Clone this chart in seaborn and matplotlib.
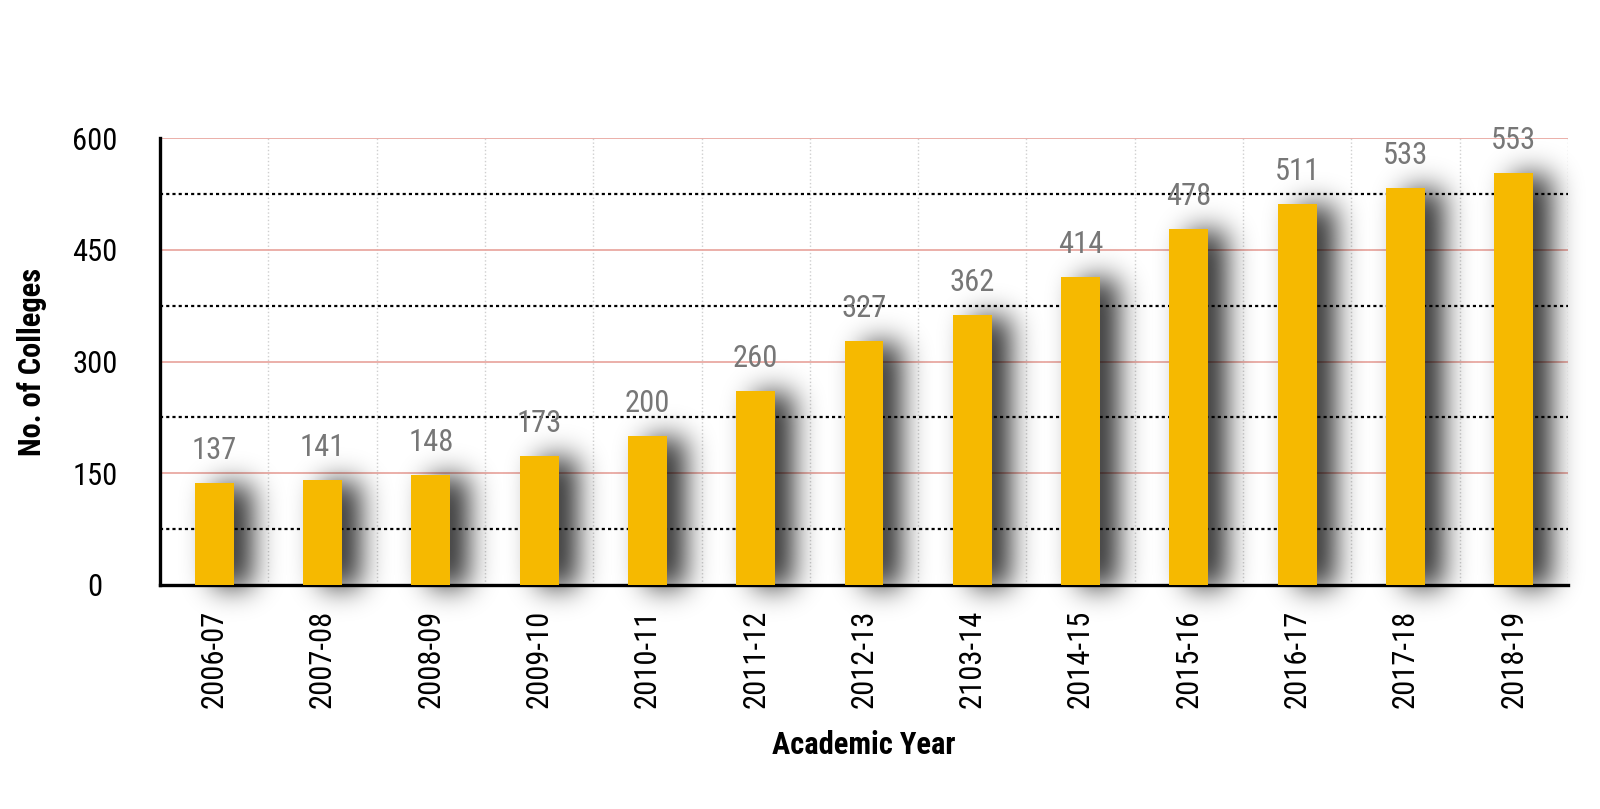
import matplotlib

matplotlib.use("Agg")

import matplotlib.pyplot as plt
import matplotlib.ticker as mticker
import numpy as np
import seaborn as sns
from matplotlib.patches import Rectangle

YEARS = [
    "2006-07", "2007-08", "2008-09", "2009-10", "2010-11", "2011-12", "2012-13",
    "2103-14", "2014-15", "2015-16", "2016-17", "2017-18", "2018-19",
]
COLLEGES = [137, 141, 148, 173, 200, 260, 327, 362, 414, 478, 511, 533, 553]
Y_TICKS = [0, 150, 300, 450, 600]

BAR_COLOR = "#F6B900"
FONT_LIST = ["Roboto Condensed", "Liberation Sans Narrow", "DejaVu Sans"]


def _blur(channel, sigma):
    radius = int(3 * sigma)
    xs = np.arange(-radius, radius + 1)
    kernel = np.exp(-(xs ** 2) / (2.0 * sigma ** 2))
    kernel /= kernel.sum()
    out = np.apply_along_axis(np.convolve, 0, channel, kernel, mode="same")
    out = np.apply_along_axis(np.convolve, 1, out, kernel, mode="same")
    return out


def drop_shadow(sigma=14, offset=(18, -2), alpha=0.85):
    # agg filter: blurred, shifted copy of the artist's alpha channel
    def _filter(im, dpi):
        pad = int(3 * sigma + max(abs(o) for o in offset)) + 2
        src = np.pad(im, [(pad, pad), (pad, pad), (0, 0)], "constant")
        out = np.zeros_like(src)
        out[:, :, 3] = np.clip(_blur(src[:, :, 3], sigma) * alpha, 0, 1)
        return out, offset[0] - pad, offset[1] - pad

    return _filter


def main():
    sns.set_theme(style="white")
    plt.rcParams["font.family"] = FONT_LIST
    plt.rcParams["font.stretch"] = "condensed"

    fig = plt.figure(figsize=(16, 8.09), dpi=100)
    ax = fig.add_axes([0.1, 0.2769, 0.88, 0.5525])

    sns.barplot(x=YEARS, y=COLLEGES, color=BAR_COLOR, saturation=1,
                width=0.36, linewidth=0, ax=ax, zorder=3)

    for bar in list(ax.patches):
        shadow = Rectangle((bar.get_x(), bar.get_y()), bar.get_width(),
                           bar.get_height(), facecolor="black",
                           edgecolor="none", zorder=2)
        shadow.set_agg_filter(drop_shadow())
        ax.add_patch(shadow)

    ax.bar_label(ax.containers[0], padding=13, color="#777777", fontsize=22)

    ax.set_xlim(-0.5, len(YEARS) - 0.5)
    ax.set_ylim(Y_TICKS[0], Y_TICKS[-1])

    # x: ticks at category borders, labels at the centres
    ax.xaxis.set_major_locator(mticker.FixedLocator(np.arange(-0.5, len(YEARS), 1.0)))
    ax.xaxis.set_major_formatter(mticker.NullFormatter())
    ax.xaxis.set_minor_locator(mticker.FixedLocator(np.arange(len(YEARS))))
    ax.xaxis.set_minor_formatter(mticker.FixedFormatter(YEARS))

    ax.yaxis.set_major_locator(mticker.FixedLocator(Y_TICKS))
    ax.yaxis.set_minor_locator(mticker.MultipleLocator(75))

    ax.tick_params(axis="both", which="major", direction="inout", length=14,
                   width=2.2, color="black")
    ax.tick_params(axis="x", which="minor", length=0, pad=18, labelsize=22,
                   labelrotation=90, labelcolor="black")
    ax.tick_params(axis="y", which="minor", length=0)
    ax.tick_params(axis="y", which="major", labelsize=22, pad=40,
                   labelcolor="black")
    for label in ax.get_yticklabels():
        label.set_horizontalalignment("center")

    ax.set_axisbelow(True)
    ax.yaxis.grid(True, which="major", color="#E9A9A3", linewidth=1.3)
    ax.yaxis.grid(True, which="minor", color="black", linewidth=1.6,
                  linestyle=(0, (1.4, 1.4)))
    ax.xaxis.grid(True, which="major", color="#CFCFCF", linewidth=1.0,
                  linestyle=":")

    sns.despine(ax=ax)
    for side in ("left", "bottom"):
        ax.spines[side].set_color("black")
        ax.spines[side].set_linewidth(2.4)

    ax.set_xlabel("Academic Year", fontsize=22, fontweight="bold",
                  color="black", va="center")
    ax.set_ylabel("No. of Colleges", fontsize=22, fontweight="bold",
                  color="black", va="center")
    ax.xaxis.set_label_coords(0.5, -0.358)
    ax.yaxis.set_label_coords(-0.0909, 0.5)

    fig.savefig("out.png", dpi=100, facecolor="white")


if __name__ == "__main__":
    main()
